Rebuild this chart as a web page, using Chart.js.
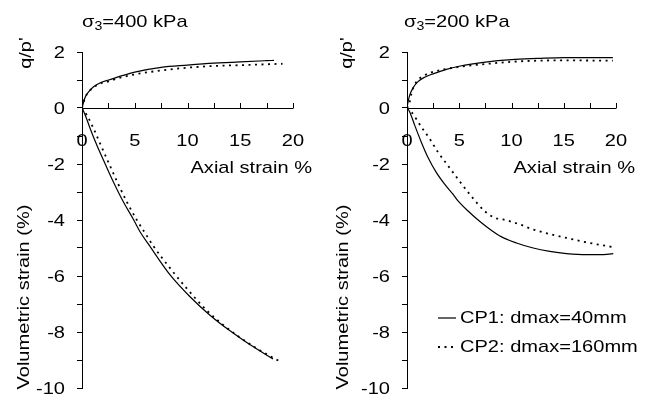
<!DOCTYPE html>
<html>
<head>
<meta charset="utf-8">
<script src="https://cdn.jsdelivr.net/npm/chart.js@4"></script>
<style>
  html, body { margin: 0; padding: 0; background: #fff; }
  #wrap { position: relative; width: 654px; height: 398px; }
  canvas { position: absolute; top: 0; }
</style>
</head>
<body>
<div id="wrap">
  <canvas id="canvas1" width="327" height="398" style="left:0"></canvas>
  <canvas id="canvas2" width="327" height="398" style="left:327px"></canvas>
</div>
<script>
// tick labels
var xTickLabels = [0, 5, 10, 15, 20];
var xTickMarks = [0, 2.5, 5, 7.5, 10, 12.5, 15, 17.5, 20];
var yTickLabels = [-10, -8, -6, -4, -2, 0, 2];
var seriesNames = ["CP1: dmax=40mm", "CP2: dmax=160mm"];

// sigma3 = 400 kPa, stress ratio q/p'
var qp400_cp1_x = [0, 0.16, 0.32, 0.63, 1.1, 1.74, 2.53, 5, 7.5, 10, 12.5, 15, 17.5, 18.2];
var qp400_cp1_y = [0, 0.22, 0.40, 0.58, 0.76, 0.9, 1.0, 1.28, 1.45, 1.53, 1.6, 1.65, 1.69, 1.7];
var qp400_cp2_x = [0, 0.3, 0.6, 1.1, 1.7, 2.5, 3.5, 5, 7.5, 10, 12.5, 15, 17.5, 19];
var qp400_cp2_y = [0, 0.38, 0.56, 0.74, 0.87, 0.95, 1.07, 1.2, 1.34, 1.44, 1.5, 1.53, 1.56, 1.58];
// sigma3 = 400 kPa, volumetric strain
var ev400_cp1_x = [0, 0.31, 0.78, 1.42, 2.2, 3.0, 3.93, 4.88, 5.5, 6.33, 8.35, 10.24, 12.13, 14.0, 15.9, 18.1];
var ev400_cp1_y = [0, -0.26, -0.74, -1.34, -2.0, -2.66, -3.36, -3.98, -4.42, -4.88, -5.96, -6.74, -7.4, -7.95, -8.45, -8.96];
var ev400_cp2_x = [0, 0.47, 1.1, 1.89, 2.67, 3.46, 4.4, 5.2, 6.0, 6.8, 8.35, 9.92, 11.8, 13.07, 14.8, 16.7, 18.74];
var ev400_cp2_y = [0, -0.26, -0.74, -1.42, -2.08, -2.74, -3.46, -4.0, -4.48, -4.95, -5.72, -6.44, -7.22, -7.65, -8.15, -8.62, -9.05];

// sigma3 = 200 kPa, stress ratio q/p'
var qp200_cp1_x = [0, 0.1, 0.26, 0.58, 1.05, 1.69, 2.49, 3.77, 4.98, 7.5, 10, 12.5, 15, 19.7];
var qp200_cp1_y = [0, 0.22, 0.46, 0.72, 0.94, 1.1, 1.22, 1.38, 1.49, 1.64, 1.73, 1.77, 1.8, 1.8];
var qp200_cp2_x = [0, 0.26, 0.42, 0.64, 1.05, 1.6, 2.33, 5, 7.5, 10, 12.5, 15, 19.7];
var qp200_cp2_y = [0, 0.22, 0.52, 0.76, 1.0, 1.15, 1.27, 1.47, 1.57, 1.65, 1.69, 1.7, 1.69];
// sigma3 = 200 kPa, volumetric strain
var ev200_cp1_x = [0, 0.26, 0.74, 1.37, 2.0, 2.8, 3.6, 4.4, 4.88, 5.84, 7.12, 8.8, 10.48, 12.08, 13.67, 15.27, 17.19, 18.5, 19.74];
var ev200_cp1_y = [0, -0.14, -0.62, -1.22, -1.76, -2.3, -2.72, -3.08, -3.32, -3.68, -4.1, -4.55, -4.82, -5.0, -5.12, -5.2, -5.24, -5.24, -5.2];
var ev200_cp2_x = [0, 0.42, 1.38, 2.17, 2.97, 3.92, 4.88, 6.0, 7.43, 8.4, 9.2, 10.8, 12.08, 13.67, 15.27, 17.19, 19.58];
var ev200_cp2_y = [0, -0.14, -0.68, -1.1, -1.58, -2.06, -2.54, -3.08, -3.68, -3.92, -3.98, -4.16, -4.34, -4.5, -4.64, -4.8, -4.96];

var FONT = '"Liberation Sans", Arial, sans-serif';
var SX = 1.18; // reference text is a bit wide

function pts(xs, ys) {
	var out = [];
	for (var i = 0; i < xs.length; i++) {
		out.push({x: xs[i], y: ys[i]});
	}
	return out;
}

function txt(ctx, s, x, y, align, size, rot) {
	ctx.save();
	ctx.translate(x, y);
	if (rot) ctx.rotate(rot);
	ctx.scale(SX, 1);
	ctx.font = size + "px " + FONT;
	ctx.fillStyle = "#000";
	ctx.textAlign = align;
	ctx.textBaseline = "middle";
	ctx.fillText(s, 0, 0);
	ctx.restore();
}

function solid(label, data) {
	return {label: label, data: data, borderColor: "#000", borderWidth: 1.2,
		pointRadius: 0, fill: false, cubicInterpolationMode: "monotone"};
}
function dotted(label, data) {
	return {label: label, data: data, borderColor: "#000", borderWidth: 1.8,
		borderDash: [2, 4.5], pointRadius: 0, fill: false, cubicInterpolationMode: "monotone"};
}

// axes, labels and legend drawn with the chart's own scales
var decor = {
	id: "decor",
	afterDraw: function (chart) {
		var ctx = chart.ctx;
		var o = chart.options.plugins.decor;
		var xs = chart.scales.x, ys = chart.scales.y;
		var y0 = ys.getPixelForValue(0);
		ctx.save();
		ctx.strokeStyle = "#000";
		ctx.lineWidth = 1;
		ctx.beginPath();
		ctx.moveTo(xs.getPixelForValue(0), Math.round(y0) + 0.5);
		ctx.lineTo(xs.getPixelForValue(20), Math.round(y0) + 0.5);
		for (var i = 0; i < xTickMarks.length; i++) {
			var px = Math.round(xs.getPixelForValue(xTickMarks[i])) + 0.5;
			ctx.moveTo(px, Math.round(y0) + 0.5);
			ctx.lineTo(px, Math.round(y0) - 5);
		}
		ctx.stroke();
		ctx.restore();

		for (var j = 0; j < xTickLabels.length; j++) {
			txt(ctx, String(xTickLabels[j]), xs.getPixelForValue(xTickLabels[j]), y0 + 33, "center", 17);
		}
		for (var k = 0; k < yTickLabels.length; k++) {
			txt(ctx, String(yTickLabels[k]), ys.left + ys.width - 17, ys.getPixelForValue(yTickLabels[k]) + 1, "right", 17);
		}
		txt(ctx, "Axial strain %", xs.right + 19, y0 + 60, "right", 17);
		txt(ctx, "q/p'", o.qpX, 53, "center", 17, -Math.PI / 2);
		txt(ctx, "Volumetric strain (%)", o.evX, 297, "center", 17, -Math.PI / 2);

		// title with subscript
		var tx = o.titleX;
		txt(ctx, "\u03c3", tx, 22, "left", 17);
		ctx.font = "17px " + FONT;
		tx += ctx.measureText("\u03c3").width * SX;
		txt(ctx, "3", tx, 27, "left", 12);
		ctx.font = "12px " + FONT;
		tx += ctx.measureText("3").width * SX;
		txt(ctx, o.title, tx, 22, "left", 17);

		if (o.legend) {
			var ds = chart.data.datasets;
			var rows = [318, 347];
			for (var r = 0; r < 2; r++) {
				ctx.save();
				ctx.strokeStyle = "#000";
				ctx.lineWidth = ds[r].borderWidth;
				ctx.setLineDash(ds[r].borderDash || []);
				ctx.beginPath();
				ctx.moveTo(o.legendX, rows[r]);
				ctx.lineTo(o.legendX + 18, rows[r]);
				ctx.stroke();
				ctx.restore();
				txt(ctx, ds[r].label, o.legendX + 22, rows[r], "left", 17);
			}
		}
	}
};

function makeChart(id, datasets, deco, axisW, padRight) {
	var ctx = document.getElementById(id).getContext("2d");
	return new Chart(ctx, {
		type: "line",
		data: {datasets: datasets},
		options: {
			responsive: false,
			animation: false,
			devicePixelRatio: 1,
			layout: {padding: {left: 0, right: padRight, top: 52, bottom: 10}},
			plugins: {legend: {display: false}, tooltip: {enabled: false}, decor: deco},
			scales: {
				x: {type: "linear", min: 0, max: 20, display: false},
				y: {
					type: "linear", min: -10, max: 2,
					ticks: {stepSize: 1, display: false},
					grid: {drawOnChartArea: false, drawTicks: true, tickLength: 5, color: "#000"},
					border: {display: true, color: "#000", width: 1},
					afterFit: function (s) { s.width = axisW; }
				}
			}
		},
		plugins: [decor]
	});
}

window.chart1 = makeChart("canvas1", [
	solid(seriesNames[0], pts(qp400_cp1_x, qp400_cp1_y)),
	dotted(seriesNames[1], pts(qp400_cp2_x, qp400_cp2_y)),
	solid(seriesNames[0], pts(ev400_cp1_x, ev400_cp1_y)),
	dotted(seriesNames[1], pts(ev400_cp2_x, ev400_cp2_y))
], {title: "=400 kPa", titleX: 82, qpX: 26, evX: 24, legend: false}, 82, 34);

window.chart2 = makeChart("canvas2", [
	solid(seriesNames[0], pts(qp200_cp1_x, qp200_cp1_y)),
	dotted(seriesNames[1], pts(qp200_cp2_x, qp200_cp2_y)),
	solid(seriesNames[0], pts(ev200_cp1_x, ev200_cp1_y)),
	dotted(seriesNames[1], pts(ev200_cp2_x, ev200_cp2_y))
], {title: "=200 kPa", titleX: 77, qpX: 20, evX: 16, legend: true, legendX: 111}, 80, 38);
</script>
</body>
</html>
